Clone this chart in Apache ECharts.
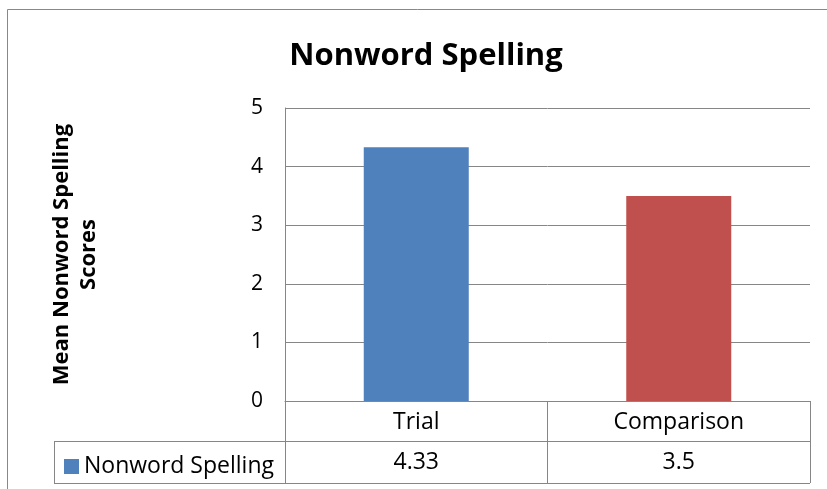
<!DOCTYPE html>
<html><head><meta charset="utf-8">
<script src="https://cdn.jsdelivr.net/npm/echarts@6/dist/echarts.min.js"></script>
<style>html,body{margin:0;padding:0;background:#fff}#c{width:827px;height:489px}</style>
</head><body><div id="c"></div>
<script>
const categories = ['Trial', 'Comparison'];
const values = [4.33, 3.5];
const seriesName = 'Nonword Spelling';
const barColors = ['#4F81BD', '#C0504D'];
const yTicks = [0, 1, 2, 3, 4, 5];

const FONT = '"Open Sans", sans-serif';
const chart = echarts.init(document.getElementById('c'), null, {renderer: 'canvas'});
const gL = 285, gR = 810, gT = 108, gB = 401, row1 = 441, row2 = 483, tblL = 54;
chart.setOption({
  animation: false,
  backgroundColor: '#fff',
  textStyle: {fontFamily: FONT},
  title: {
    text: 'Nonword Spelling', left: 421, top: 36, textAlign: 'center',
    textStyle: {fontFamily: FONT, fontSize: 31, fontWeight: 'bold', color: '#000'}
  },
  legend: {
    left: 59, top: 450, icon: 'rect', itemWidth: 15, itemHeight: 15, itemGap: 4,
    textStyle: {fontFamily: FONT, fontSize: 23, color: '#000', padding: [0,0,0,0]},
    data: [seriesName]
  },
  grid: {left: gL, right: 827 - gR, top: gT, bottom: 489 - gB, containLabel: false},
  xAxis: [{
    type: 'category', data: categories, position: 'bottom',
    axisLine: {show: true, lineStyle: {color: '#868686', width: 1}},
    axisTick: {show: true, length: row2 - gB, interval: 0, lineStyle: {color: '#868686'}},
    axisLabel: {fontFamily: FONT, fontSize: 23, color: '#000', margin: 10},
  }, {
    type: 'category', data: categories, position: 'bottom', offset: row1 - gB,
    axisLine: {show: false}, axisTick: {show: false},
    axisLabel: {fontFamily: FONT, fontSize: 23, color: '#000', margin: 10,
      formatter: (v, i) => String(values[i])}
  }],
  yAxis: {
    type: 'value', min: 0, max: 5, interval: 1,
    name: 'Mean Nonword Spelling\nScores', nameLocation: 'middle', nameGap: 183, nameRotate: 90,
    nameTextStyle: {fontFamily: FONT, fontSize: 22, fontWeight: 'bold', color: '#000', lineHeight: 27},
    axisLine: {show: true, lineStyle: {color: '#868686'}},
    axisTick: {show: false},
    splitLine: {show: true, lineStyle: {color: '#868686', width: 1}},
    axisLabel: {fontFamily: FONT, fontSize: 21, color: '#000', margin: 22,
      formatter: v => yTicks.includes(v) ? String(v) : ''}
  },
  series: [{
    name: seriesName, type: 'bar', barWidth: '40%',
    itemStyle: {color: barColors[0]},
    data: values.map((v, i) => ({value: v, itemStyle: {color: barColors[i]}}))
  }],
  graphic: [
    {type: 'rect', shape: {x: 7.5, y: 9.5, width: 830, height: 500}, style: {fill: 'none', stroke: '#888', lineWidth: 1}, silent: true},
    {type: 'line', shape: {x1: tblL, y1: row1 + 0.5, x2: gR, y2: row1 + 0.5}, style: {stroke: '#868686', lineWidth: 1}},
    {type: 'line', shape: {x1: tblL, y1: row2 + 0.5, x2: gR, y2: row2 + 0.5}, style: {stroke: '#868686', lineWidth: 1}},
    {type: 'line', shape: {x1: tblL + 0.5, y1: row1, x2: tblL + 0.5, y2: row2}, style: {stroke: '#868686', lineWidth: 1}}
  ]
});
</script></body></html>
